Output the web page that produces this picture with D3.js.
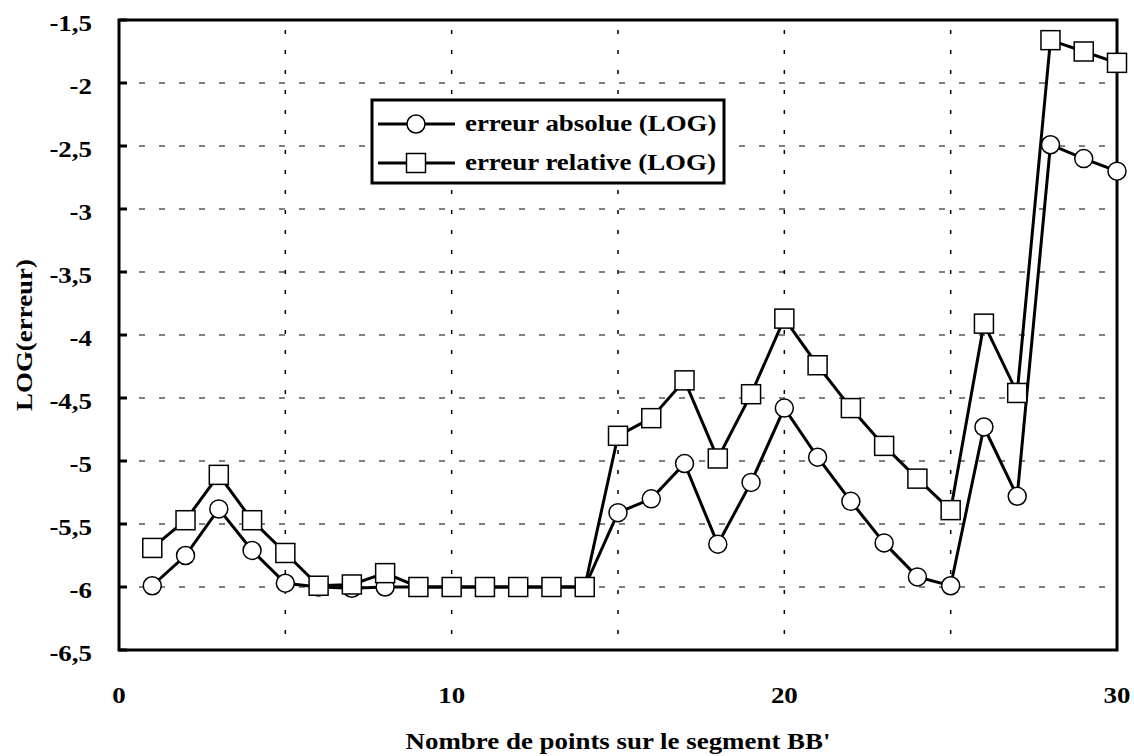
<!DOCTYPE html>
<html>
<head>
<meta charset="utf-8">
<script src="https://d3js.org/d3.v7.min.js"></script>
<style>
  body { margin: 0; background: #fff; }
  svg text { font-family: "Liberation Serif", "Times New Roman", serif; font-weight: bold; fill: #000; font-size: 23px; }
</style>
</head>
<body>
<div id="graph"></div>
<script>
// number of points on segment BB'
var points = d3.range(1, 31);

// LOG of absolute error (circles)
var errAbsolue = [-5.99, -5.75, -5.38, -5.71, -5.97, -6.0, -6.01, -6.0, -6.0, -6.0,
                  -6.0, -6.0, -6.0, -6.0, -5.41, -5.30, -5.02, -5.66, -5.17, -4.58,
                  -4.97, -5.32, -5.65, -5.92, -5.99, -4.73, -5.28, -2.49, -2.60, -2.70];

// LOG of relative error (squares)
var errRelative = [-5.69, -5.47, -5.11, -5.47, -5.73, -5.99, -5.98, -5.89, -6.0, -6.0,
                   -6.0, -6.0, -6.0, -6.0, -4.80, -4.66, -4.36, -4.98, -4.47, -3.87,
                   -4.24, -4.58, -4.88, -5.14, -5.39, -3.91, -4.46, -1.66, -1.75, -1.84];

var xTicks = [0, 10, 20, 30];
var yTicks = [-1.5, -2, -2.5, -3, -3.5, -4, -4.5, -5, -5.5, -6, -6.5];
var xGrid = [5, 10, 15, 20, 25];
var yGrid = [-2, -2.5, -3, -3.5, -4, -4.5, -5, -5.5, -6];

var legendLabels = ["erreur absolue (LOG)", "erreur relative (LOG)"];

const fullwidth = 1134;
const fullheight = 756;
const pLeft = 119, pRight = 1117, pTop = 20, pBottom = 650;
const stretch = 1.17;   // the scanned text is wider than Liberation Serif

var xScale = d3.scaleLinear().domain([0, 30]).range([pLeft, pRight]);
var yScale = d3.scaleLinear().domain([-6.5, -1.5]).range([pBottom, pTop]);

var fmt = function(v) { return String(v).replace(".", ","); };

var svg = d3.select("#graph").append("svg")
  .attr("width", fullwidth)
  .attr("height", fullheight);

// text placed at (x,y), widened along its own direction
function label(parent, x, y, str, anchor, rot) {
  parent.append("g")
    .attr("transform", "translate(" + x + "," + y + ")" + (rot ? " rotate(" + rot + ")" : "") + " scale(" + stretch + ",1)")
    .append("text")
      .attr("text-anchor", anchor || "start")
      .text(str);
}

// grid lines
svg.append("g").selectAll("line")
  .data(yGrid).enter().append("line")
    .attr("x1", pLeft).attr("x2", pRight)
    .attr("y1", d => yScale(d)).attr("y2", d => yScale(d))
    .attr("stroke", "#000").attr("stroke-width", 1)
    .attr("stroke-dasharray", "6,14");

svg.append("g").selectAll("line")
  .data(xGrid).enter().append("line")
    .attr("x1", d => xScale(d)).attr("x2", d => xScale(d))
    .attr("y1", pTop).attr("y2", pBottom)
    .attr("stroke", "#000").attr("stroke-width", 1.5)
    .attr("stroke-dasharray", "4,16")
    .attr("stroke-dashoffset", -10);

// y ticks inside the frame
svg.append("g").selectAll("line")
  .data(yTicks).enter().append("line")
    .attr("x1", pLeft).attr("x2", pLeft + 8)
    .attr("y1", d => yScale(d)).attr("y2", d => yScale(d))
    .attr("stroke", "#000").attr("stroke-width", 3);

// frame
svg.append("rect")
  .attr("x", pLeft).attr("y", pTop)
  .attr("width", pRight - pLeft).attr("height", pBottom - pTop)
  .attr("fill", "none").attr("stroke", "#000").attr("stroke-width", 3);

// tick labels
var yLab = svg.append("g");
yTicks.forEach(function(t) { label(yLab, 92, yScale(t) + 11, fmt(t), "end"); });

var xLab = svg.append("g");
xTicks.forEach(function(t) { label(xLab, xScale(t), 703, t, "middle"); });

// axis titles
label(svg, (pLeft + pRight) / 2, 749, "Nombre de points sur le segment BB'", "middle");
label(svg, 32, (pTop + pBottom) / 2, "LOG(erreur)", "middle", -90);

// series
var line = d3.line()
  .x((d, i) => xScale(points[i]))
  .y(d => yScale(d));

svg.append("path")
  .datum(errAbsolue)
  .attr("d", line)
  .attr("fill", "none").attr("stroke", "#000").attr("stroke-width", 3);

svg.append("g").selectAll("circle")
  .data(errAbsolue).enter().append("circle")
    .attr("cx", (d, i) => xScale(points[i]))
    .attr("cy", d => yScale(d))
    .attr("r", 9)
    .attr("fill", "#fff").attr("stroke", "#000").attr("stroke-width", 1.5);

svg.append("path")
  .datum(errRelative)
  .attr("d", line)
  .attr("fill", "none").attr("stroke", "#000").attr("stroke-width", 3);

var sq = 19;
svg.append("g").selectAll("rect")
  .data(errRelative).enter().append("rect")
    .attr("x", (d, i) => xScale(points[i]) - sq / 2)
    .attr("y", d => yScale(d) - sq / 2)
    .attr("width", sq).attr("height", sq)
    .attr("fill", "#fff").attr("stroke", "#000").attr("stroke-width", 1.5);

// legend
var legend = svg.append("g").attr("class", "legend");
legend.append("rect")
  .attr("x", 372).attr("y", 100)
  .attr("width", 352).attr("height", 83)
  .attr("fill", "#fff").attr("stroke", "#000").attr("stroke-width", 3);

legendLabels.forEach(function(lbl, i) {
  var cy = 124 + i * 39;
  legend.append("line")
    .attr("x1", 378).attr("x2", 455)
    .attr("y1", cy).attr("y2", cy)
    .attr("stroke", "#000").attr("stroke-width", 3);
  if (i === 0) {
    legend.append("circle")
      .attr("cx", 416).attr("cy", cy).attr("r", 9)
      .attr("fill", "#fff").attr("stroke", "#000").attr("stroke-width", 1.5);
  } else {
    legend.append("rect")
      .attr("x", 416 - sq / 2).attr("y", cy - sq / 2)
      .attr("width", sq).attr("height", sq)
      .attr("fill", "#fff").attr("stroke", "#000").attr("stroke-width", 1.5);
  }
  label(legend, 465, cy + 7, lbl, "start");
});
</script>
</body>
</html>
